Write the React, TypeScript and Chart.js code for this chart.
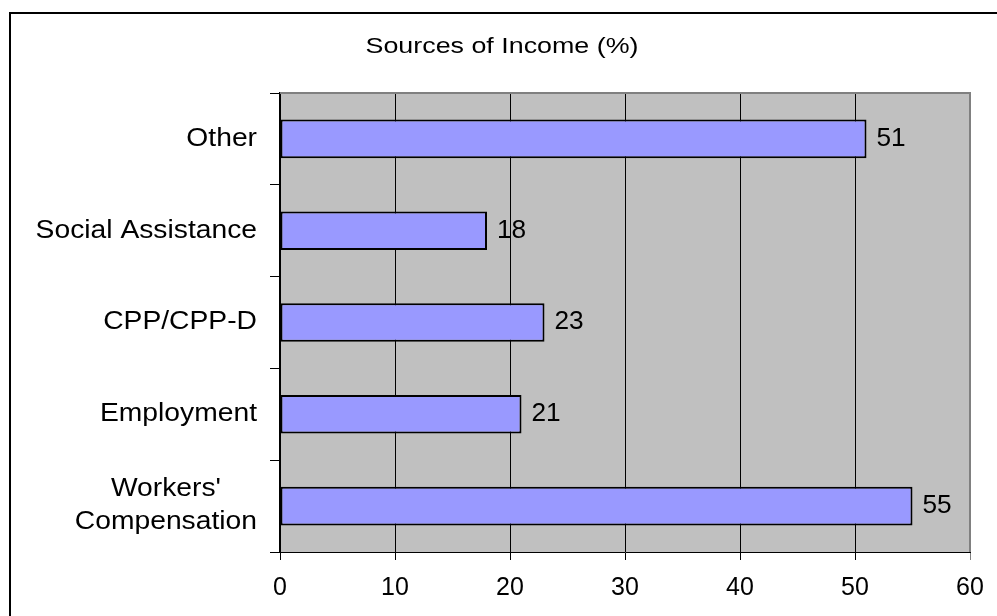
import React, { useEffect, useRef } from "react";
import { Chart, registerables } from "chart.js";

Chart.register(...registerables);

const chartTitle = "Sources of Income (%)";
const categories: (string | string[])[] = [
  "Other",
  "Social Assistance",
  "CPP/CPP-D",
  "Employment",
  ["Workers'", "Compensation"],
];
const values = [51, 18, 23, 21, 55];
const xMin = 0;
const xMax = 60;
const xStep = 10;

const FONT = "'Liberation Sans', Arial, Helvetica, sans-serif";

function drawText(ctx: any, text: string, x: number, y: number, align: string, sx: number) {
  ctx.save();
  ctx.translate(x, y);
  ctx.scale(sx, 1);
  ctx.textAlign = align;
  ctx.fillText(text, 0, 0);
  ctx.restore();
}

const plotBackground = {
  id: "plotBackground",
  beforeDraw(chart: any) {
    const { ctx, chartArea } = chart;
    ctx.save();
    ctx.fillStyle = "#C0C0C0";
    ctx.fillRect(chartArea.left, chartArea.top, chartArea.right - chartArea.left, chartArea.bottom - chartArea.top);
    ctx.restore();
  },
  beforeDatasetsDraw(chart: any) {
    const { ctx, chartArea } = chart;
    ctx.save();
    ctx.strokeStyle = "#808080";
    ctx.lineWidth = 2;
    ctx.beginPath();
    ctx.moveTo(chartArea.left, chartArea.top);
    ctx.lineTo(chartArea.right, chartArea.top);
    ctx.lineTo(chartArea.right, chartArea.bottom);
    ctx.stroke();
    ctx.restore();
  },
};

const titleText = {
  id: "titleText",
  afterDraw(chart: any) {
    const { ctx } = chart;
    ctx.save();
    ctx.font = `22px ${FONT}`;
    ctx.fillStyle = "#000";
    ctx.textBaseline = "middle";
    drawText(ctx, chartTitle, 502, 47, "center", 1.22);
    ctx.restore();
  },
};

const categoryLabels = {
  id: "categoryLabels",
  afterDraw(chart: any) {
    const { ctx } = chart;
    const yScale = chart.scales.y;
    const sx = 1.13;
    ctx.save();
    ctx.font = `25px ${FONT}`;
    ctx.fillStyle = "#000";
    ctx.textBaseline = "middle";
    const lineH = 33;
    const rightEdge = yScale.right - 23;
    categories.forEach((cat, i) => {
      const lines = Array.isArray(cat) ? cat : [cat];
      const widest = Math.max(...lines.map((l) => ctx.measureText(l).width)) * sx;
      const cx = rightEdge - widest / 2;
      const cy = yScale.getPixelForValue(i);
      const startY = cy - ((lines.length - 1) * lineH) / 2;
      lines.forEach((l, j) => drawText(ctx, l, cx, startY + j * lineH, "center", sx));
    });
    ctx.restore();
  },
};

const valueLabels = {
  id: "valueLabels",
  afterDatasetsDraw(chart: any) {
    const { ctx } = chart;
    const meta = chart.getDatasetMeta(0);
    ctx.save();
    ctx.font = `25px ${FONT}`;
    ctx.fillStyle = "#000";
    ctx.textBaseline = "middle";
    meta.data.forEach((bar: any, i: number) => {
      drawText(ctx, String(values[i]), bar.x + 10, bar.y, "left", 1.05);
    });
    ctx.restore();
  },
};

export default function App() {
  const canvasRef = useRef<HTMLCanvasElement | null>(null);

  useEffect(() => {
    if (!canvasRef.current) return;
    const chart = new Chart(canvasRef.current, {
      type: "bar",
      data: {
        labels: categories,
        datasets: [
          {
            data: values,
            backgroundColor: "#9999FF",
            borderColor: "#000000",
            borderWidth: 2,
            borderSkipped: false,
            barPercentage: 0.42,
            categoryPercentage: 1,
          },
        ],
      },
      options: {
        indexAxis: "y",
        responsive: false,
        animation: false,
        devicePixelRatio: 1,
        layout: { padding: { top: 93, right: 27, bottom: 0, left: 0 } },
        plugins: {
          legend: { display: false },
          tooltip: { enabled: false },
          title: { display: false },
        },
        scales: {
          x: {
            type: "linear",
            min: xMin,
            max: xMax,
            ticks: {
              stepSize: xStep,
              color: "#000",
              font: { family: FONT, size: 25 },
              padding: 13,
            },
            grid: {
              color: (ctx: any) => (ctx.tick && ctx.tick.value === xMax ? "#808080" : "#000000"),
              lineWidth: 1,
              tickLength: 8,
            },
            border: { color: "#000", width: 1 },
            afterFit: (s: any) => {
              s.height = 64;
            },
          },
          y: {
            type: "category",
            position: "left",
            ticks: { display: false },
            grid: {
              drawOnChartArea: false,
              offset: true,
              tickLength: 10,
              color: "#000",
            },
            border: { color: "#000", width: 2 },
            afterFit: (s: any) => {
              s.width = 280;
            },
          },
        },
      },
      plugins: [plotBackground, titleText, categoryLabels, valueLabels],
    } as any);
    return () => chart.destroy();
  }, []);

  return (
    <div style={{ position: "fixed", left: 0, top: 0, width: 997, height: 616, overflow: "hidden", background: "#fff" }}>
      <div
        style={{
          position: "absolute",
          left: 9,
          top: 12,
          width: 1000,
          height: 620,
          borderLeft: "2px solid #000",
          borderTop: "2px solid #000",
          boxSizing: "border-box",
        }}
      />
      <canvas
        ref={canvasRef}
        width={997}
        height={616}
        style={{ position: "absolute", left: 0, top: 0, width: 997, height: 616, display: "block" }}
      />
    </div>
  );
}
